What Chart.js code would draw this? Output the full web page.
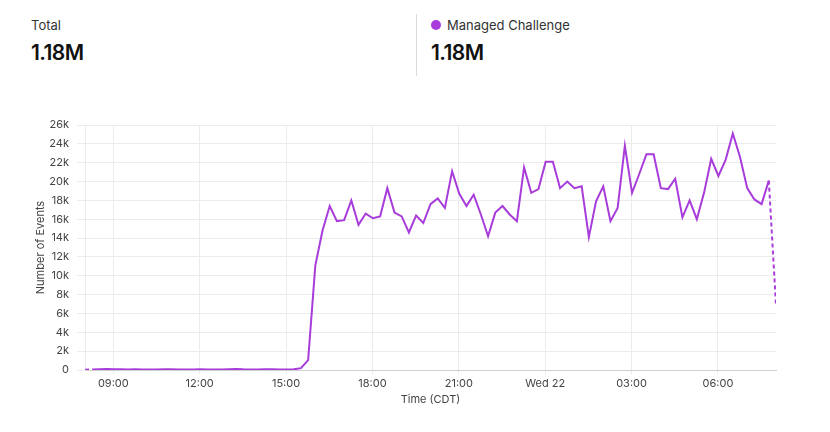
<!DOCTYPE html>
<html>
<head>
<meta charset="utf-8">
<script src="https://cdn.jsdelivr.net/npm/chart.js@4/dist/chart.umd.min.js"></script>
<style>
  html, body { margin:0; padding:0; background:#fff; }
  body { width:830px; height:432px; position:relative; overflow:hidden; font-family: Inter, "Noto Sans", sans-serif; }
  .kpi { position:absolute; top:16px; }
  .lbl { font-size:13px; color:#333; line-height:18px; height:18px; display:flex; align-items:center; }
  .val { font-size:21px; font-weight:600; color:#111; margin-top:6px; letter-spacing:-0.6px; line-height:26px; }
  .dot { display:inline-block; width:10px; height:10px; border-radius:50%; background:#a83cda; margin-right:6px; }
  .divider { position:absolute; left:416px; top:14px; width:1px; height:62px; background:#dcdcdc; }
  #wrap { position:absolute; left:0; top:100px; width:830px; height:320px; }
</style>
</head>
<body>
<div class="kpi" style="left:31px">
  <div class="lbl">Total</div>
  <div class="val">1.18M</div>
</div>
<div class="divider"></div>
<div class="kpi" style="left:431px">
  <div class="lbl"><span class="dot"></span>Managed Challenge</div>
  <div class="val">1.18M</div>
</div>
<div id="wrap"><canvas id="c" width="830" height="320"></canvas></div>
<script>
// 15-minute buckets, first bucket at 08:01 (minutes of day), 97 buckets
const startMinute = 481;
const bucketMinutes = 15;
const seriesName = 'Managed Challenge';
const events = [
  20, 60, 80, 110, 90, 70, 60, 80, 50, 60,
  40, 70, 90, 60, 50, 40, 70, 60, 50, 60,
  80, 100, 70, 60, 50, 70, 90, 60, 40, 70,
  200, 1050, 11100, 14800, 17400, 15800, 15900, 18000, 15400, 16600,
  16100, 16300, 19300, 16700, 16300, 14600, 16400, 15600, 17600, 18200,
  17200, 21100, 18700, 17400, 18600, 16500, 14200, 16700, 17400, 16500,
  15800, 21500, 18800, 19200, 22100, 22100, 19300, 20000, 19300, 19500,
  14100, 17900, 19500, 15800, 17200, 23800, 18800, 20800, 22900, 22900,
  19300, 19200, 20300, 16200, 18000, 16000, 18800, 22400, 20600, 22300,
  25100, 22600, 19300, 18100, 17600, 20100, 6900
];
const bucketTimes = events.map((_, i) => startMinute + i * bucketMinutes);
const tickMinutes = [540, 720, 900, 1080, 1260, 1440, 1620, 1800];
const tickLabels = ['09:00', '12:00', '15:00', '18:00', '21:00', 'Wed 22', '03:00', '06:00'];
const yTicks = [0, 2000, 4000, 6000, 8000, 10000, 12000, 14000, 16000, 18000, 20000, 22000, 24000, 26000];

const purple = '#a83cda';
const gridColor = '#ebebeb';
const textColor = '#444';
const font = { family: 'Inter, "Noto Sans", sans-serif', size: 11 };
const last = events.length - 1;

new Chart(document.getElementById('c'), {
  type: 'line',
  data: {
    datasets: [{
      label: seriesName,
      data: events.map((v, i) => ({ x: bucketTimes[i], y: v })),
      borderColor: purple,
      borderWidth: 2,
      pointRadius: 0,
      tension: 0,
      fill: false,
      segment: {
        borderDash: ctx => (ctx.p0DataIndex === 0 || ctx.p1DataIndex === last) ? [4, 3] : undefined
      }
    }]
  },
  options: {
    responsive: false,
    animation: false,
    plugins: { legend: { display: false }, tooltip: { enabled: false } },
    layout: { padding: { left: 0, right: 54, top: 25, bottom: 0 } },
    scales: {
      x: {
        type: 'linear',
        min: bucketTimes[0],
        max: bucketTimes[last],
        afterBuildTicks: s => { s.ticks = tickMinutes.map(v => ({ value: v })); },
        afterFit: s => { s.height = 50; },
        ticks: {
          font, color: textColor, padding: 3, maxRotation: 0, autoSkip: false,
          callback: v => tickLabels[tickMinutes.indexOf(v)]
        },
        grid: { color: gridColor, tickLength: 4, drawOnChartArea: true },
        border: { display: true, color: '#cfcfcf' },
        title: { display: true, text: 'Time (CDT)', font, color: textColor, padding: { top: 0, bottom: 14 } }
      },
      y: {
        min: 0,
        max: 26000,
        afterBuildTicks: s => { s.ticks = yTicks.map(v => ({ value: v })); },
        afterFit: s => { s.width = 85; },
        ticks: {
          font, color: textColor, padding: 8,
          callback: v => v === 0 ? '0' : (v / 1000) + 'k'
        },
        grid: { color: gridColor, tickLength: 8 },
        border: { display: true, color: gridColor },
        title: { display: true, text: 'Number of Events', font, color: textColor, padding: { top: 34, bottom: 0 } }
      }
    }
  }
});
</script>
</body>
</html>
